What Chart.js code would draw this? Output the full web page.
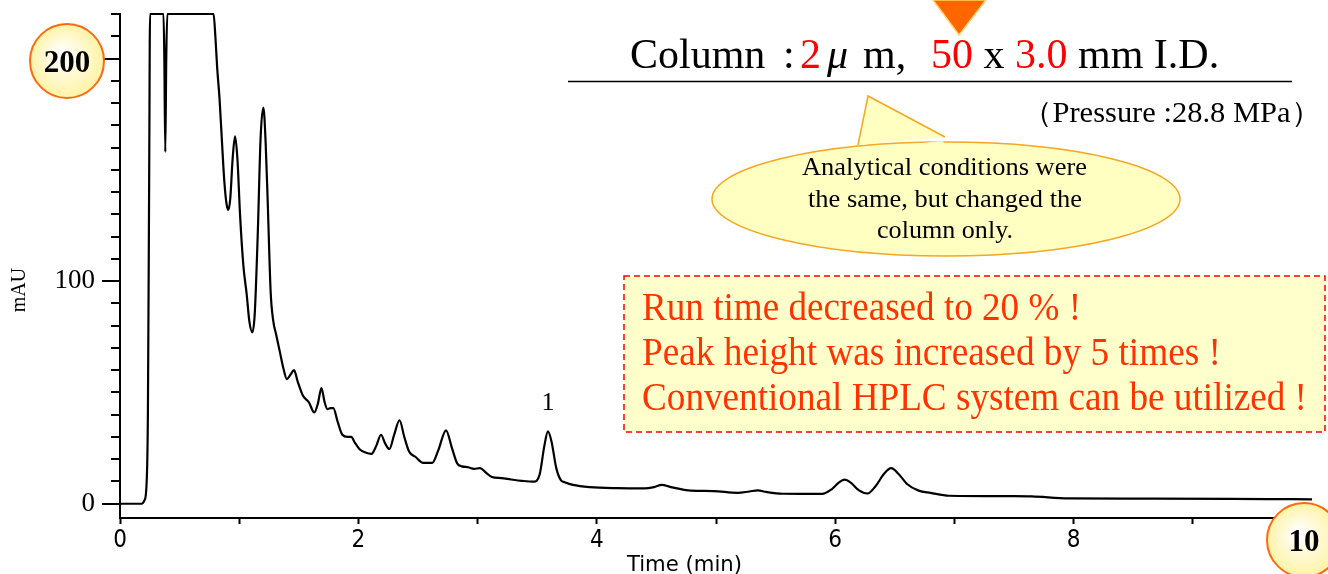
<!DOCTYPE html>
<html>
<head>
<meta charset="utf-8">
<script src="https://cdn.jsdelivr.net/npm/chart.js@4.4.1/dist/chart.umd.min.js"></script>
<style>
  html, body { margin: 0; padding: 0; background: #fff; }
  #wrap { width: 1328px; height: 574px; }
</style>
</head>
<body>
<div id="wrap"><canvas id="chart" width="1328" height="574"></canvas></div>
<script>
// retention time (min) and detector signal (mAU)
const times = [
    0.00, 0.18, 0.205, 0.222, 0.234, 0.245, 0.252, 0.365, 0.372, 0.38, 0.388, 0.397,
    0.785, 0.80, 0.815, 0.835, 0.855, 0.875, 0.893, 0.909, 0.925, 0.945, 0.965, 0.985,
    1.007, 1.035, 1.063, 1.085, 1.11, 1.13, 1.155, 1.18, 1.203, 1.222, 1.239, 1.264,
    1.286, 1.31, 1.342, 1.37, 1.40, 1.43, 1.46, 1.49, 1.535, 1.585, 1.63, 1.66,
    1.69, 1.715, 1.74, 1.765, 1.79, 1.825, 1.865, 1.91, 1.94, 1.97, 2.01, 2.06,
    2.11, 2.15, 2.19, 2.225, 2.26, 2.30, 2.345, 2.385, 2.425, 2.48, 2.54, 2.62,
    2.67, 2.735, 2.785, 2.83, 2.87, 2.92, 2.97, 3.02, 3.07, 3.12, 3.2, 3.28,
    3.37, 3.47, 3.52, 3.56, 3.59, 3.62, 3.66, 3.70, 3.73, 3.8, 3.94, 4.17,
    4.40, 4.48, 4.545, 4.62, 4.79, 4.98, 5.18, 5.28, 5.35, 5.42, 5.56, 5.89,
    5.97, 6.03, 6.08, 6.13, 6.20, 6.27, 6.34, 6.41, 6.47, 6.53, 6.60, 6.70,
    6.80, 6.955, 7.50, 7.65, 7.96, 8.66, 9.62, 10.0
];
const signal = [
    0, 0, 1.5, 8, 40, 150, 220, 220, 200, 158, 200, 220,
    220, 210, 196, 182, 163, 145, 135, 132, 137, 155, 165, 155,
    130, 107, 94, 82, 77, 85, 120, 165, 178, 162, 136, 95,
    82, 76, 68, 61, 56, 58, 60, 55, 48.5, 45.5, 41, 45,
    52, 46, 42.5, 43, 43, 37, 31, 30, 30, 27.5, 24.5, 23,
    22.4, 26, 31, 27, 24.6, 31, 37.5, 30, 23.5, 21, 18.4, 18.4,
    24, 33, 25, 18, 16.8, 16.4, 15.7, 16, 14, 12, 11.5, 10.9,
    10.3, 9.9, 13, 26, 32.5, 28, 16, 10.5, 9.7, 8.5, 7.5, 7.0,
    6.9, 7.5, 8.5, 7.5, 5.9, 5.7, 4.9, 5.5, 6.0, 5.3, 4.5, 4.4,
    6.5, 9.5, 10.8, 9.5, 6, 4.6, 8, 13.5, 16, 13.5, 9, 5.9,
    4.9, 3.6, 3.4, 3.3, 2.4, 2.3, 2.1, 2.0
];

const xTicks = [0, 1, 2, 3, 4, 5, 6, 7, 8, 9, 10];
const xLabels = [0, 2, 4, 6, 8, 10];
const yTicks = [0, 10, 20, 30, 40, 50, 60, 70, 80, 90, 100, 110, 120, 130, 140, 150, 160, 170, 180, 190, 200, 210, 220];
const yLabels = [0, 100, 200];
const peakLabels = [{ t: 3.59, v: 32.5, text: '1' }];

const serif = '"Liberation Serif", "Times New Roman", serif';
const gothic = '"Liberation Sans Narrow", "DejaVu Sans Condensed", "DejaVu Sans", sans-serif';

// draw text squeezed or stretched to a given width
function fitText(ctx, text, x, y, width) {
    const w = ctx.measureText(text).width;
    ctx.save();
    ctx.translate(x, y);
    ctx.scale(width / w, 1);
    ctx.textAlign = 'left';
    ctx.fillText(text, 0, 0);
    ctx.restore();
}

function badge(ctx, cx, cy, r, text) {
    const g = ctx.createRadialGradient(cx - 6, cy - 8, 2, cx, cy, r);
    g.addColorStop(0, '#ffffff');
    g.addColorStop(1, '#fff3a6');
    ctx.beginPath();
    ctx.arc(cx, cy, r, 0, Math.PI * 2);
    ctx.fillStyle = g;
    ctx.fill();
    ctx.lineWidth = 2;
    ctx.strokeStyle = '#ff6a10';
    ctx.stroke();
    ctx.fillStyle = '#000';
    ctx.font = 'bold 31px ' + serif;
    ctx.textAlign = 'center';
    ctx.textBaseline = 'alphabetic';
    ctx.fillText(text, cx, cy + 11);
}

const decorations = {
    id: 'decorations',
    afterDraw(chart) {
        const ctx = chart.ctx;
        const xs = chart.scales.x;
        const ys = chart.scales.y;
        const left = chart.chartArea.left;
        ctx.save();

        // y axis tick marks, long at labelled values
        ctx.strokeStyle = '#000';
        ctx.lineWidth = 2;
        yTicks.forEach(v => {
            const py = Math.round(ys.getPixelForValue(v));
            const len = yLabels.includes(v) ? 18 : 9;
            ctx.beginPath();
            ctx.moveTo(left - len, py);
            ctx.lineTo(left, py);
            ctx.stroke();
        });

        // axis titles
        ctx.fillStyle = '#000';
        ctx.textBaseline = 'alphabetic';
        ctx.font = '22px ' + gothic;
        fitText(ctx, 'Time (min)', 627, 571, 115);
        ctx.save();
        ctx.translate(25, 290);
        ctx.rotate(-Math.PI / 2);
        ctx.font = '20px ' + serif;
        ctx.textAlign = 'center';
        ctx.fillText('mAU', 0, 0);
        ctx.restore();

        // peak numbers
        ctx.font = '26px ' + serif;
        ctx.textAlign = 'center';
        ctx.textBaseline = 'middle';
        peakLabels.forEach(p => {
            ctx.fillText(p.text, xs.getPixelForValue(p.t), ys.getPixelForValue(p.v) - 28);
        });

        // badges
        badge(ctx, 67, 61, 37, '200');
        badge(ctx, 1304, 540, 37, '10');

        // orange arrow head at top
        ctx.beginPath();
        ctx.moveTo(933, 0);
        ctx.lineTo(986, 0);
        ctx.lineTo(959, 35);
        ctx.closePath();
        ctx.fillStyle = '#ff6600';
        ctx.fill();
        ctx.strokeStyle = '#ffd36b';
        ctx.lineWidth = 1.5;
        ctx.stroke();

        // column text
        ctx.textAlign = 'left';
        ctx.textBaseline = 'alphabetic';
        const colParts = [
            ['Column', '#000', 630, ''], [':', '#000', 783, ''], ['2', '#ff0000', 800, ''],
            ['\u03bc', '#000', 827, 'italic '], ['m,', '#000', 863, ''], ['50', '#ff0000', 931, '']
        ];
        colParts.forEach(p => {
            ctx.font = p[3] + '42px ' + serif;
            ctx.fillStyle = p[1];
            ctx.fillText(p[0], p[2], 68);
        });
        ctx.font = '42px ' + serif;
        let cx = 931 + ctx.measureText('50').width;
        [[' x ', '#000'], ['3.0', '#ff0000'], [' mm I.D.', '#000']].forEach(p => {
            ctx.fillStyle = p[1];
            ctx.fillText(p[0], cx, 68);
            cx += ctx.measureText(p[0]).width;
        });
        ctx.beginPath();
        ctx.moveTo(568, 81.5);
        ctx.lineTo(1292, 81.5);
        ctx.strokeStyle = '#000';
        ctx.lineWidth = 1.6;
        ctx.stroke();

        ctx.font = '29px ' + serif;
        ctx.fillStyle = '#000';
        fitText(ctx, '\uff08Pressure :28.8 MPa\uff09', 1022, 122, 299);

        // callout bubble
        ctx.beginPath();
        ctx.ellipse(946, 199, 234, 57, 0, 0, Math.PI * 2);
        ctx.fillStyle = '#ffffc2';
        ctx.fill();
        ctx.strokeStyle = '#f5a623';
        ctx.lineWidth = 1.5;
        ctx.stroke();
        ctx.beginPath();
        ctx.moveTo(858, 145);
        ctx.lineTo(868, 96);
        ctx.lineTo(945, 137);
        ctx.fill();
        ctx.stroke();
        ctx.beginPath();
        ctx.moveTo(860, 149);
        ctx.lineTo(943, 141);
        ctx.lineTo(946, 150);
        ctx.lineTo(858, 158);
        ctx.fillStyle = '#ffffc2';
        ctx.fill();
        ctx.fillStyle = '#000';
        ctx.font = '25px ' + serif;
        fitText(ctx, 'Analytical conditions were', 802, 175, 285);
        fitText(ctx, 'the same, but changed the', 808, 207, 274);
        fitText(ctx, 'column only.', 877, 238, 136);

        // message box
        ctx.fillStyle = '#ffffcc';
        ctx.fillRect(624, 276, 701, 156);
        ctx.setLineDash([6, 4]);
        ctx.strokeStyle = '#ff0000';
        ctx.lineWidth = 1.5;
        ctx.strokeRect(624, 276, 701, 156);
        ctx.setLineDash([]);
        ctx.fillStyle = '#ff3300';
        ctx.font = '40px ' + serif;
        fitText(ctx, 'Run time decreased to 20 % !', 642, 320, 439);
        fitText(ctx, 'Peak height was increased by 5 times !', 642, 365, 579);
        fitText(ctx, 'Conventional HPLC system can be utilized !', 642, 410, 665);

        ctx.restore();
    }
};

const ctx = document.getElementById('chart').getContext('2d');
new Chart(ctx, {
    type: 'line',
    data: {
        datasets: [{
            data: times.map((t, i) => ({ x: t, y: signal[i] })),
            borderColor: '#000',
            borderWidth: 2.2,
            pointRadius: 0,
            cubicInterpolationMode: 'monotone',
            clip: false
        }]
    },
    options: {
        responsive: false,
        animation: false,
        layout: { padding: { top: 14, right: 16, left: 0, bottom: 0 } },
        plugins: { legend: { display: false }, tooltip: { enabled: false } },
        scales: {
            x: {
                type: 'linear',
                min: 0,
                max: 10,
                afterBuildTicks: s => { s.ticks = xTicks.map(v => ({ value: v })); },
                afterFit: s => { s.height = 56; s.paddingLeft = 0; s.paddingRight = 0; },
                grid: { drawOnChartArea: false, tickLength: 6, tickWidth: 2, tickColor: '#000' },
                border: { color: '#000', width: 2 },
                ticks: {
                    color: '#000',
                    font: { family: gothic, size: 24 },
                    padding: 2,
                    maxRotation: 0,
                    autoSkip: false,
                    callback: v => xLabels.includes(v) ? String(v) : ''
                }
            },
            y: {
                min: -6.4,
                max: 220,
                afterBuildTicks: s => { s.ticks = yTicks.map(v => ({ value: v })); },
                afterFit: s => { s.width = 120; s.paddingTop = 0; s.paddingBottom = 0; },
                grid: { drawOnChartArea: false, tickLength: 18, tickColor: 'transparent' },
                border: { color: '#000', width: 2 },
                ticks: {
                    color: '#000',
                    font: { family: serif, size: 27 },
                    padding: 7,
                    autoSkip: false,
                    callback: v => yLabels.includes(v) ? String(v) : ''
                }
            }
        }
    },
    plugins: [decorations]
});
</script>
</body>
</html>
